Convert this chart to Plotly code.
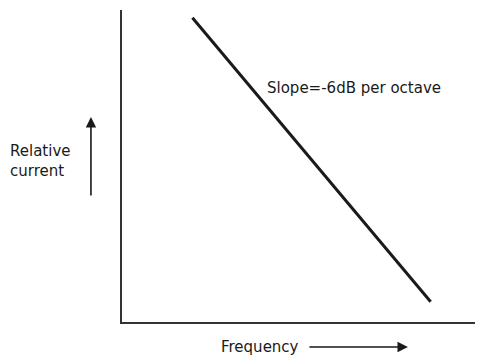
import plotly.graph_objects as go

# response line (arbitrary units, axes run 0..10)
frequency = [1.95, 8.55]
current = [9.75, 0.65]

slope_label = 'Slope=-6dB per octave'
x_label = 'Frequency'
y_label = 'Relative<br>current'

fig = go.Figure()

fig.add_trace(go.Scatter(
    x=frequency,
    y=current,
    mode='lines',
    line=dict(color='#1a1a1a', width=3),
    hoverinfo='skip',
))

font = dict(family='DejaVu Sans', size=15, color='#1a1a1a')

fig.add_annotation(x=3.96, y=7.5, xref='x', yref='y', text=slope_label,
                   showarrow=False, xanchor='left', yanchor='middle', font=font)

# labels and arrows sit outside the plot area, so use paper coords
fig.add_annotation(x=-0.316, y=0.516, xref='paper', yref='paper', text=y_label,
                   showarrow=False, xanchor='left', yanchor='middle', align='left', font=font)

fig.add_annotation(x=-0.086, y=0.657, ax=0, ay=80, xref='paper', yref='paper',
                   text='', showarrow=True,
                   arrowhead=2, arrowsize=1.3, arrowwidth=1.6, arrowcolor='#1a1a1a')

fig.add_annotation(x=0.382, y=-0.08, xref='paper', yref='paper', text=x_label,
                   showarrow=False, xanchor='center', yanchor='middle', font=font)

fig.add_annotation(x=0.792, y=-0.08, ax=-100, ay=0, xref='paper', yref='paper',
                   text='', showarrow=True,
                   arrowhead=2, arrowsize=1.3, arrowwidth=1.6, arrowcolor='#1a1a1a')

# page body has an 8px margin, so the figure is shrunk by that much
fig.update_layout(
    width=475,
    height=347,
    margin=dict(l=114, r=0, t=2, b=33),
    plot_bgcolor='white',
    paper_bgcolor='white',
    showlegend=False,
)
fig.update_xaxes(range=[0, 10], showline=True, linewidth=2, linecolor='#333333',
                 showgrid=False, zeroline=False, showticklabels=False, ticks='')
fig.update_yaxes(range=[0, 10], showline=True, linewidth=2, linecolor='#333333',
                 showgrid=False, zeroline=False, showticklabels=False, ticks='')

fig.write_html('out.html')
